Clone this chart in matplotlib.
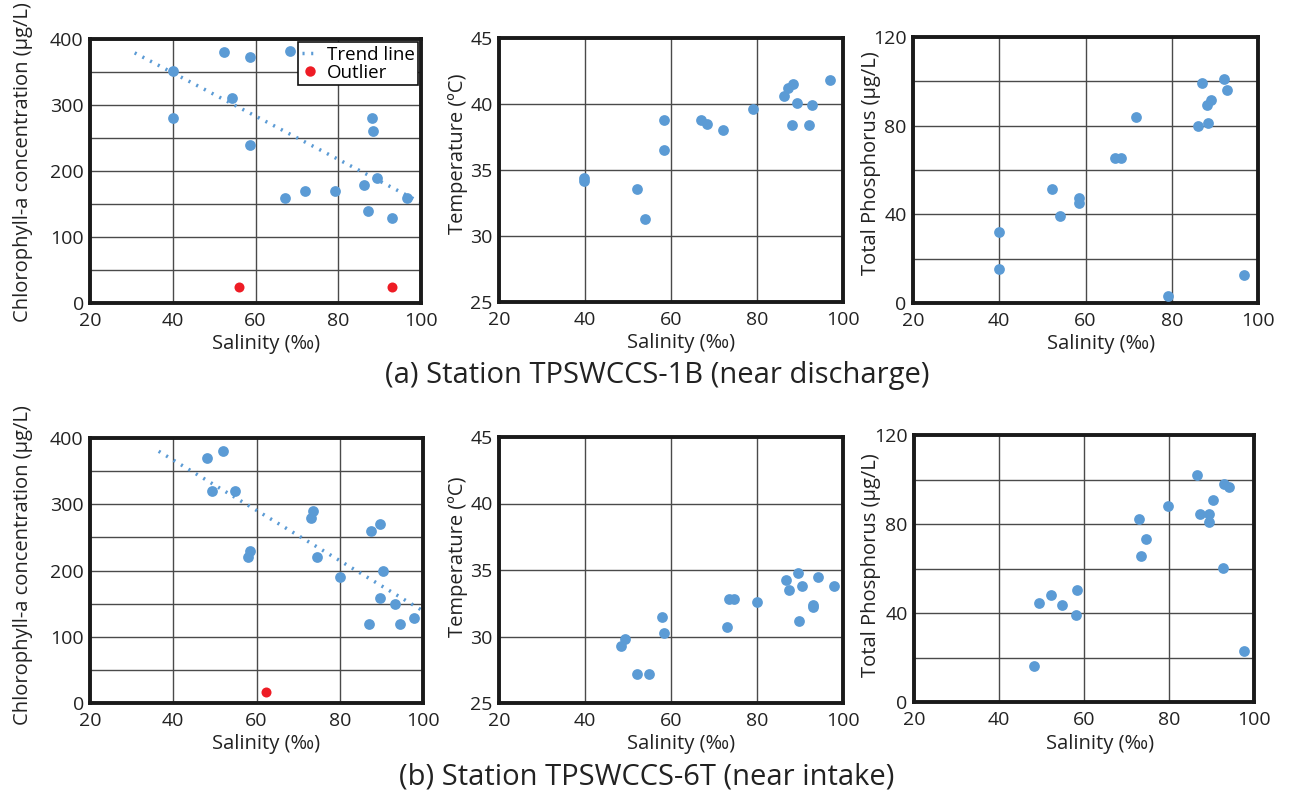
import matplotlib
matplotlib.use("Agg")
import matplotlib.pyplot as plt
import numpy as np
from matplotlib.lines import Line2D

plt.rcParams['font.family'] = ['Open Sans', 'DejaVu Sans']

# ---------------- data: (a) Station TPSWCCS-1B ----------------
a_chl_sal = [52.4, 58.7, 68.3, 40.0, 54.2, 40.0, 58.7, 88.1, 88.3, 89.3, 86.2, 67.1, 72.0, 79.1, 96.7, 87.2, 92.9]
a_chl_val = [381, 372, 382, 351, 311, 281, 240, 281, 260, 190, 179, 159, 169, 169, 159, 139, 129]
a_out_sal = [56.1, 93.1]
a_out_val = [25, 25]
a_trend_sal = [30.8, 100.0]
a_trend_val = [379, 152]

a_temp_sal = [96.9, 88.4, 87.2, 86.2, 89.3, 92.9, 79.1, 88.2, 92.2, 58.4, 66.9, 68.4, 72.0, 58.4, 39.8, 39.8, 52.2, 54.0]
a_temp_val = [41.8, 41.5, 41.2, 40.6, 40.1, 39.9, 39.65, 38.4, 38.4, 38.8, 38.8, 38.5, 38.0, 36.5, 34.4, 34.15, 33.55, 31.3]

a_tp_sal = [92.1, 87.0, 92.9, 89.2, 88.1, 88.4, 86.1, 71.8, 66.8, 68.3, 52.2, 58.5, 58.5, 54.1, 40.0, 39.9, 79.2, 96.7]
a_tp_val = [101.1, 99.3, 95.9, 91.7, 89.1, 81.2, 79.7, 84.0, 65.5, 65.5, 51.6, 47.5, 44.9, 39.4, 32.2, 15.4, 3.0, 12.7]

# ---------------- data: (b) Station TPSWCCS-6T ----------------
b_chl_sal = [52.0, 48.2, 49.3, 54.8, 73.5, 73.0, 89.6, 87.5, 58.4, 58.0, 74.6, 80.0, 90.5, 89.6, 93.2, 97.8, 87.0, 94.4]
b_chl_val = [380, 370, 320, 320, 290, 280, 270, 260, 230, 220, 220, 190, 200, 159, 149, 129, 119, 119]
b_out_sal = [62.2]
b_out_val = [16]
b_trend_sal = [36.5, 100.0]
b_trend_val = [380, 139]

b_temp_sal = [89.5, 94.1, 86.7, 97.8, 90.5, 87.4, 73.5, 74.7, 79.9, 93.1, 93.0, 89.7, 73.1, 57.9, 58.4, 49.3, 48.3, 52.1, 54.9]
b_temp_val = [34.75, 34.5, 34.25, 33.8, 33.8, 33.5, 32.85, 32.85, 32.6, 32.4, 32.2, 31.2, 30.7, 31.5, 30.3, 29.8, 29.3, 27.2, 27.2]

b_tp_sal = [86.7, 92.9, 94.2, 90.4, 79.8, 87.2, 89.5, 89.4, 72.9, 74.5, 73.4, 92.7, 58.4, 52.2, 49.3, 54.8, 58.0, 48.2, 97.7]
b_tp_val = [102.1, 98.2, 96.6, 91.0, 88.1, 84.3, 84.3, 81.0, 82.1, 73.3, 65.8, 60.4, 50.4, 47.9, 44.3, 43.7, 39.3, 16.1, 23.1]

x_ticks = [20, 40, 60, 80, 100]
chl_ticks = [0, 100, 200, 300, 400]
temp_ticks = [25, 30, 35, 40, 45]
tp_ticks = [0, 40, 80, 120]

xlabel = "Salinity (‰)"
chl_label = "Chlorophyll-a concentration (µg/L)"
temp_label = "Temperature (ºC)"
tp_label = "Total Phosphorus (µg/L)"
legend_labels = ["Trend line", "Outlier"]
caption_a = "(a) Station TPSWCCS-1B (near discharge)"
caption_b = "(b) Station TPSWCCS-6T (near intake)"

BLUE = '#5B9BD5'
RED = '#EE1C25'
TXT = '#222222'

W, H = 1290, 798
fig = plt.figure(figsize=(W / 100, H / 100), dpi=100)


def make_ax(l, t, r, b):
    return fig.add_axes([l / W, 1 - b / H, (r - l) / W, (b - t) / H])


def style(ax, box, ylim, yticks, ygrid, ylab, ylab_right, ylab_yc, xlab_top, xlab_xc):
    l, t, r, b = box
    ax.set_xlim(20, 100)
    ax.set_ylim(*ylim)
    ax.set_xticks(x_ticks)
    ax.set_yticks(yticks)
    ax.set_yticks(ygrid, minor=True)
    ax.set_xticks(x_ticks, minor=True)
    ax.grid(True, which='both', color='#4a4a4a', linewidth=1.0)
    ax.set_axisbelow(True)
    ax.tick_params(which='both', length=0, labelsize=14, colors=TXT)
    ax.tick_params(axis='x', pad=6.5)
    ax.tick_params(axis='y', pad=4.5)
    for s in ax.spines.values():
        s.set_linewidth(2.8)
        s.set_color('#1a1a1a')
    ax.set_xlabel(xlabel, fontsize=14.5, color=TXT)
    ax.set_ylabel(ylab, fontsize=14.5, color=TXT)
    ax.yaxis.set_label_coords((ylab_right - l) / (r - l), (b - ylab_yc) / (b - t))
    ax.xaxis.set_label_coords((xlab_xc - l) / (r - l), -(xlab_top - b) / (b - t))


ms = 60
dot_style = (0, (0.6, 1.9))

# (a) row
box = (90, 39, 421, 303)
ax = make_ax(*box)
ax.scatter(a_chl_sal, a_chl_val, s=ms, color=BLUE, zorder=3, linewidths=0)
ax.plot(a_trend_sal, a_trend_val, color=BLUE, lw=2.5, linestyle=dot_style, zorder=2, clip_on=False)
ax.scatter(a_out_sal, a_out_val, s=52, color=RED, zorder=3, linewidths=0)
style(ax, box, (0, 400), chl_ticks, np.arange(0, 401, 50), chl_label, 33, 162, 334, 266)
handles = [Line2D([], [], color=BLUE, lw=2.5, linestyle=dot_style),
           Line2D([], [], color=RED, marker='o', linestyle='none', markersize=7.5, markeredgewidth=0)]
leg = ax.legend(handles, legend_labels, loc='upper right', fontsize=13.5,
                frameon=True, fancybox=False, edgecolor='#111111', framealpha=1,
                handlelength=0.8, handletextpad=0.5, borderpad=0.2, labelspacing=0.0,
                borderaxespad=0.15)
leg.get_frame().set_linewidth(1.2)

box = (499, 38, 843, 302)
ax = make_ax(*box)
ax.scatter(a_temp_sal, a_temp_val, s=ms, color=BLUE, zorder=3, linewidths=0)
style(ax, box, (25, 45), temp_ticks, temp_ticks, temp_label, 468, 154, 333, 681)

box = (913, 37, 1258, 303)
ax = make_ax(*box)
ax.scatter(a_tp_sal, a_tp_val, s=ms, color=BLUE, zorder=3, linewidths=0, clip_on=False)
style(ax, box, (0, 120), tp_ticks, np.arange(0, 121, 20), tp_label, 881, 163, 334, 1101)

# (b) row
box = (90, 438, 423, 703)
ax = make_ax(*box)
ax.scatter(b_chl_sal, b_chl_val, s=ms, color=BLUE, zorder=3, linewidths=0)
ax.plot(b_trend_sal, b_trend_val, color=BLUE, lw=2.5, linestyle=dot_style, zorder=2, clip_on=False)
ax.scatter(b_out_sal, b_out_val, s=52, color=RED, zorder=3, linewidths=0)
style(ax, box, (0, 400), chl_ticks, np.arange(0, 401, 50), chl_label, 33, 565, 734, 266)

box = (499, 437, 843, 703)
ax = make_ax(*box)
ax.scatter(b_temp_sal, b_temp_val, s=ms, color=BLUE, zorder=3, linewidths=0)
style(ax, box, (25, 45), temp_ticks, temp_ticks, temp_label, 468, 557, 734, 681)

box = (914, 435, 1254, 702)
ax = make_ax(*box)
ax.scatter(b_tp_sal, b_tp_val, s=ms, color=BLUE, zorder=3, linewidths=0)
style(ax, box, (0, 120), tp_ticks, np.arange(0, 121, 20), tp_label, 881, 565, 734, 1100)

fig.text(657 / W, 1 - 376 / H, caption_a, ha='center', va='center', fontsize=21, color=TXT)
fig.text(647 / W, 1 - 777 / H, caption_b, ha='center', va='center', fontsize=21, color=TXT)

fig.savefig("out.png", dpi=100, facecolor='white')
